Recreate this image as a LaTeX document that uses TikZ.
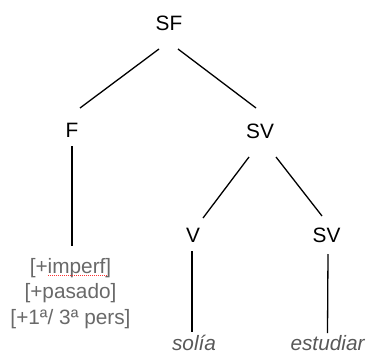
\documentclass[tikz,border=0pt]{standalone}
\usepackage{fontspec}
\setmainfont{Liberation Sans}
\definecolor{featgray}{RGB}{105,105,105}
\definecolor{wordgray}{RGB}{88,88,88}
\tikzset{
  lbl/.style={inner sep=0pt, anchor=base, font=\fontsize{20.8}{25.5}\selectfont, text=black},
  feat/.style={lbl, align=center, text=featgray},
  word/.style={lbl, text=wordgray, font=\fontsize{20.8}{25.5}\selectfont\itshape},
  edge/.style={line width=1.3pt, black},
  squiggle/.style={red!80, line width=0.9pt, dash pattern=on 0.9pt off 1.1pt}
}
\begin{document}
\begin{tikzpicture}[x=1pt,y=1pt]
\useasboundingbox (0,0) rectangle (366,-353);
\node[lbl] (sf) at (169,-30.5) {SF};
\node[lbl] (f) at (72,-137) {F};
\node[lbl] (sv1) at (260,-138.5) {SV};
\node[lbl] (v) at (193,-242.5) {V};
\node[lbl] (sv2) at (326.5,-242.5) {SV};
\node[feat] (fe) at (70.5,-324) {{[}+imperf{]}\\{[}+pasado{]}\\{[}+1ª/ 3ª pers{]}};
\node[word] (solia) at (194,-350) {solía};
\node[word] (est) at (327.5,-350) {estudiar};
\draw[edge] ([shift={(-10pt,-18.5pt)}]sf.base) -- ([shift={(8pt,29pt)}]f.base);
\draw[edge] ([shift={(9pt,-18.5pt)}]sf.base) -- ([shift={(-4pt,30.5pt)}]sv1.base);
\draw[edge] ([shift={(0pt,-9pt)}]f.base) -- ([shift={(0pt,12pt)}]fe.north -| f.base);
\draw[edge] ([shift={(-11pt,-18.5pt)}]sv1.base) -- ([shift={(10pt,24.5pt)}]v.base);
\draw[edge] ([shift={(16pt,-18.5pt)}]sv1.base) -- ([shift={(-4.5pt,26.5pt)}]sv2.base);
\draw[edge] ([shift={(-1pt,-8.5pt)}]v.base) -- ([shift={(-2pt,18pt)}]solia.base);
\draw[edge] ([shift={(1.5pt,-11.5pt)}]sv2.base) -- ([shift={(0pt,17pt)}]est.base);
\draw[squiggle] (48,-275.5) -- (107,-275.5);
\end{tikzpicture}
\end{document}
